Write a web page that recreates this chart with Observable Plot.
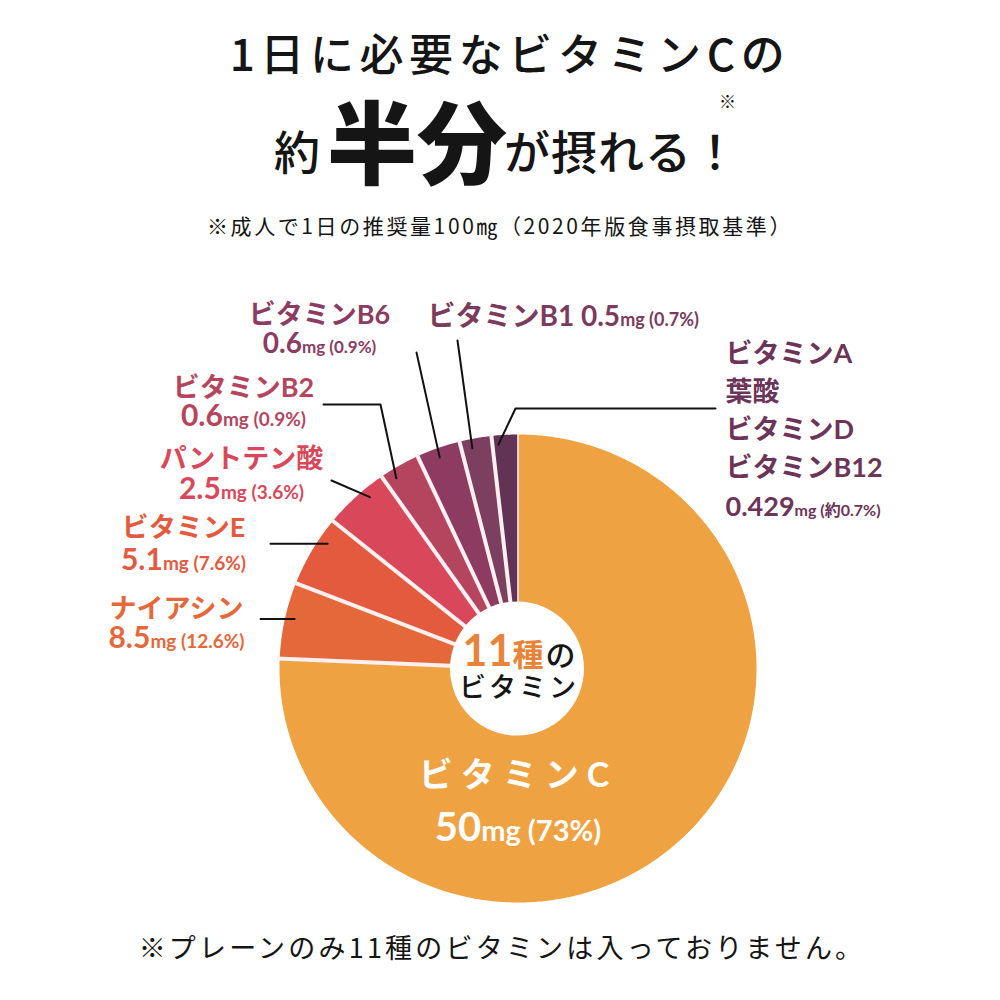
<!DOCTYPE html>
<html lang="ja">
<head>
<meta charset="utf-8">
<script src="https://cdn.jsdelivr.net/npm/d3@7"></script>
<script src="https://cdn.jsdelivr.net/npm/@observablehq/plot@0.6"></script>
<style>
  html,body{margin:0;padding:0;background:#fff;}
  #page{position:relative;width:1000px;height:1000px;overflow:hidden;font-family:"Noto Sans CJK JP","Noto Sans",sans-serif;color:#151515;}
  .abs{position:absolute;line-height:1;white-space:nowrap;}
  #chart{position:absolute;left:0;top:260px;width:1000px;height:650px;}
</style>
</head>
<body>
<div id="page">
  <div class="abs" style="left:10px;width:1000px;top:30px;text-align:center;font-size:44px;letter-spacing:5.6px;font-weight:500;">1日に必要なビタミンCの</div>
  <div class="abs" style="left:274px;top:126px;font-size:46px;font-weight:500;">約</div>
  <div class="abs" style="left:327px;top:93px;font-size:90px;font-weight:900;">半分</div>
  <div class="abs" style="left:504px;top:126px;font-size:46px;font-weight:500;letter-spacing:1px;">が摂れる！</div>
  <div class="abs" style="left:719px;top:92px;font-size:17px;">※</div>
  <div class="abs" style="left:0;width:1000px;top:215px;text-align:center;font-size:21px;letter-spacing:2.6px;">※成人で1日の推奨量100㎎（2020年版食事摂取基準）</div>
  <div id="chart"></div>
  <div class="abs" style="left:2px;width:1000px;top:933px;text-align:center;font-size:27px;letter-spacing:3.2px;">※プレーンのみ11種のビタミンは入っておりません。</div>
</div>
<script>
// ---------- data ----------
const vitamins   = ["ビタミンC","ナイアシン","ビタミンE","パントテン酸","ビタミンB2","ビタミンB6","ビタミンB1","ビタミンA\n葉酸\nビタミンD\nビタミンB12"];
const amountsMg  = ["50","8.5","5.1","2.5","0.6","0.6","0.5","0.429"];
const shares     = ["73%","12.6%","7.6%","3.6%","0.9%","0.9%","0.7%","約0.7%"];
// angular size of each slice as drawn in the picture (degrees)
const drawnDegrees = [272.4, 19.0, 17.7, 16.0, 10.0, 10.7, 7.8, 6.4];

// ---------- styles ----------
const sliceColors = ["#eea241","#e4683a","#e35a3e","#d9485a","#b5455f","#8e3b62","#7d3f60","#623355"];
const labelColors = ["#ffffff","#e4683a","#e35a3e","#d9485a","#b5455f","#8a3c62","#7a3b5e","#6c3458"];
const labelFont = "Lato, 'Noto Sans CJK JP', sans-serif";
const cjkFont = "'Noto Sans CJK JP', sans-serif";

// ---------- layout (svg px) ----------
const W = 1000, H = 650;
const cx = 517.5, cy = 408, rx = 238.5, ry = 234, innerR = 67;
const callouts = [
  {i:1, nudge: 0.8, route:[[260,null]],            x:176, y:357, gap:30,   anchor:"middle", num:30, unit:19},
  {i:2, nudge: 3.5, route:[[270,null]],            x:183, y:276, gap:33,   anchor:"middle", num:30, unit:19},
  {i:3, nudge: 2.6, route:[[331,220]],             x:241, y:207, gap:31,   anchor:"middle", num:30, unit:19},
  {i:4, nudge:-2.2, route:[[380,144],[323,null]],  x:243, y:136, gap:29,   anchor:"middle", num:30, unit:19},
  {i:5, nudge:-0.45,route:[[416,92]],              x:319, y:63,  gap:29,   anchor:"middle", num:28, unit:17},
  {i:6, nudge:-1.2, route:[[457,80]],              x:427, y:65,  gap:0,    anchor:"start",  num:28, unit:18, inline:true},
  {i:7, nudge:-1.7, route:[[515,148],[715,null]],  x:725, y:102, gap:38.3, anchor:"start",  num:27, unit:16}
];

// ---------- geometry ----------
const pie = d3.pie().sort(null).value(d => d)(drawnDegrees);
const polar = (a, k = 1) => ({x: cx + k * rx * Math.sin(a), y: cy - k * ry * Math.cos(a)});
const slicePts = pie.flatMap((p, i) => {
  const n = Math.max(2, Math.ceil((p.endAngle - p.startAngle) / (Math.PI / 360)));
  const pts = [{i, x: cx, y: cy}];
  for (let k = 0; k <= n; k++) pts.push({i, ...polar(p.startAngle + (p.endAngle - p.startAngle) * k / n)});
  pts.push({i, x: cx, y: cy});
  return pts;
});
// white dividers along each slice boundary
const dividers = pie.map((p, i) => {
  const e = polar(p.startAngle, 1.01);
  return {x1: cx, y1: cy, x2: e.x, y2: e.y, w: i === 0 ? 1.6 : 4};
});

const leaderPts = callouts.flatMap(c => {
  const p = pie[c.i];
  const a = (p.startAngle + p.endAngle) / 2 + c.nudge * Math.PI / 180;
  let cur = polar(a, 0.96);
  const pts = [{id: c.i, ...cur}];
  for (const [x, y] of c.route) { cur = {x, y: y == null ? cur.y : y}; pts.push({id: c.i, ...cur}); }
  return pts;
});

// markup {size|text} -> tspan of that px size ; {key|text} -> tspan with a named style
const valueText = (i, num, unit) => `{${num}|${amountsMg[i]}}{${unit}|mg (${shares[i]})}`;
const NAME = 27;
const calloutTexts = callouts.map(c => {
  const lines = c.inline
    ? [`{28|${vitamins[c.i]} }${valueText(c.i, c.num, c.unit)}`]
    : [...vitamins[c.i].split("\n"), valueText(c.i, c.num, c.unit)];
  return {x: c.x, y: c.y + (lines.length - 1) * c.gap, t: lines.join("\n"), c: labelColors[c.i], a: c.anchor, lh: c.gap / NAME};
});

// centre: number of vitamins
const vitaminCount = vitamins.flatMap(v => v.split("\n")).length;

const textOpts = (extra) => ({x: "x", y: "y", text: "t", lineAnchor: "bottom", fontWeight: 700, fontFamily: labelFont, ...extra});

const chart = Plot.plot({
  width: W, height: H, margin: 0,
  x: {domain: [0, W], range: [0, W], axis: null},
  y: {domain: [0, H], range: [0, H], axis: null},
  color: {type: "identity"},
  style: {background: "transparent", overflow: "visible"},
  marks: [
    Plot.line(slicePts, {x: "x", y: "y", z: "i", fill: d => sliceColors[d.i], stroke: "none", curve: "linear"}),
    Plot.link(dividers, {x1: "x1", y1: "y1", x2: "x2", y2: "y2", stroke: "#fcefef", strokeWidth: d => d.w, strokeLinecap: "butt"}),
    Plot.dot([{x: cx - 1, y: cy}], {x: "x", y: "y", r: innerR, fill: "white", stroke: "none"}),
    Plot.line(leaderPts, {x: "x", y: "y", z: "id", stroke: "#111", strokeWidth: 2, curve: "linear"}),
    ...calloutTexts.map(d => Plot.text([d], textOpts({fill: d.c, fontSize: NAME, textAnchor: d.a, lineHeight: d.lh}))),
    Plot.text([{x: cx, y: 580, t: `{ls8|${vitamins[0]}}\n{40|${amountsMg[0]}}{29|mg (${shares[0]})}`}],
      textOpts({fill: "white", fontSize: 34, textAnchor: "middle", lineHeight: 54 / 34})),
    Plot.text([{x: cx + 1, y: 436, t: `${vitaminCount}{31|種}{no|の}\n{vt|ビタミン}`}],
      textOpts({fill: "#e8843a", fontSize: 43, textAnchor: "middle", lineHeight: 31 / 43}))
  ]
});

const NS = "http://www.w3.org/2000/svg";
const namedStyles = {
  ls8: {"letter-spacing": "8"},
  no: {"font-size": "30px", fill: "#151515", "font-weight": "500", "font-family": cjkFont, dx: "2"},
  vt: {"font-size": "27px", fill: "#151515", "font-weight": "500", "font-family": cjkFont, "letter-spacing": "3"}
};
function expand(node) {
  const s = node.textContent;
  if (!s.includes("{")) return;
  node.textContent = "";
  const re = /\{([^|}]*)\|([^}]*)\}|([^{]+)/g; let m;
  while ((m = re.exec(s))) {
    const ts = document.createElementNS(NS, "tspan");
    if (m[1] !== undefined) {
      ts.textContent = m[2];
      const st = namedStyles[m[1]] || {"font-size": `${m[1]}px`};
      for (const k in st) ts.setAttribute(k, st[k]);
    } else ts.textContent = m[3];
    node.appendChild(ts);
  }
}
chart.querySelectorAll("text").forEach(t => {
  const lines = t.querySelectorAll(":scope > tspan");
  if (lines.length) lines.forEach(expand); else expand(t);
});
document.getElementById("chart").appendChild(chart);
</script>
</body>
</html>
